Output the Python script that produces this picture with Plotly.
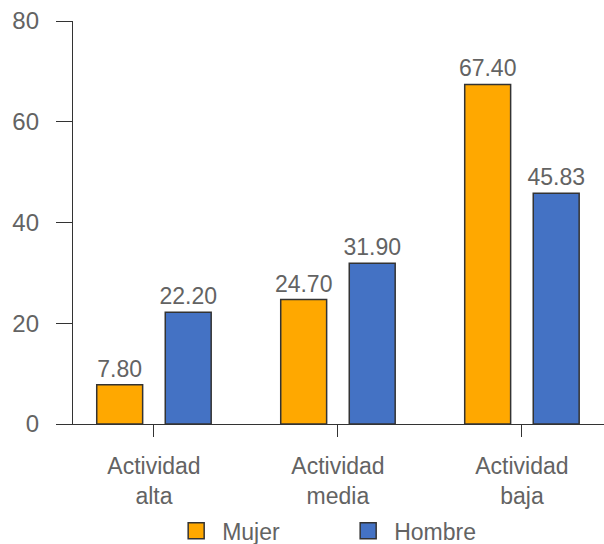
import plotly.graph_objects as go

categories = ["Actividad<br>alta", "Actividad<br>media", "Actividad<br>baja"]
mujer = [7.80, 24.70, 67.40]
hombre = [22.20, 31.90, 45.83]
series_names = ["Mujer", "Hombre"]
colors = ["#FFA800", "#4472C4"]
y_ticks = [0, 20, 40, 60, 80]

FONT = "Liberation Sans, Arial, sans-serif"
GRAY = "#636363"
DARK = "#333333"

fig = go.Figure()
for name, vals, col in zip(series_names, [mujer, hombre], colors):
    fig.add_trace(go.Bar(
        x=categories, y=vals, name=name, showlegend=False,
        marker=dict(color=col, line=dict(color=DARK, width=1.5)),
        text=[f"{v:.2f}" for v in vals], textposition="outside", constraintext="none",
        textfont=dict(size=23, color=GRAY, family=FONT), cliponaxis=False,
    ))
# legend entries with larger square symbols
for name, col in zip(series_names, colors):
    fig.add_trace(go.Scatter(
        x=[None], y=[None], mode="markers", name=name,
        marker=dict(symbol="square", size=16, color=col, line=dict(color=DARK, width=1.5)),
    ))

fig.update_layout(
    width=604, height=544,
    margin=dict(l=73, r=0, t=21, b=120, autoexpand=False),
    plot_bgcolor="white", paper_bgcolor="white",
    barmode="group", bargap=0.255, bargroupgap=0.33,
    font=dict(family=FONT, size=23, color=GRAY),
    showlegend=True,
    legend=dict(orientation="h", x=0.183, xanchor="left", y=-0.265, yanchor="middle",
                font=dict(size=23, color=GRAY, family=FONT), itemsizing="trace",
                itemwidth=42, entrywidth=115, entrywidthmode="pixels"),
    xaxis=dict(type="category", range=[-0.44, 2.446], showline=True, linecolor=DARK, linewidth=1.3,
               ticks="outside", ticklen=12, tickcolor=DARK, tickwidth=1.3, ticklabelstandoff=9,
               tickfont=dict(size=23, color=GRAY, family=FONT), showgrid=False, zeroline=False),
    yaxis=dict(range=[0, 80], tickvals=y_ticks, showline=True, linecolor=DARK, linewidth=1.3,
               ticks="outside", ticklen=16, tickcolor=DARK, tickwidth=1.3, ticklabelstandoff=12,
               tickfont=dict(size=24, color=GRAY, family=FONT), showgrid=False, zeroline=False),
)
fig.write_html("out.html")
